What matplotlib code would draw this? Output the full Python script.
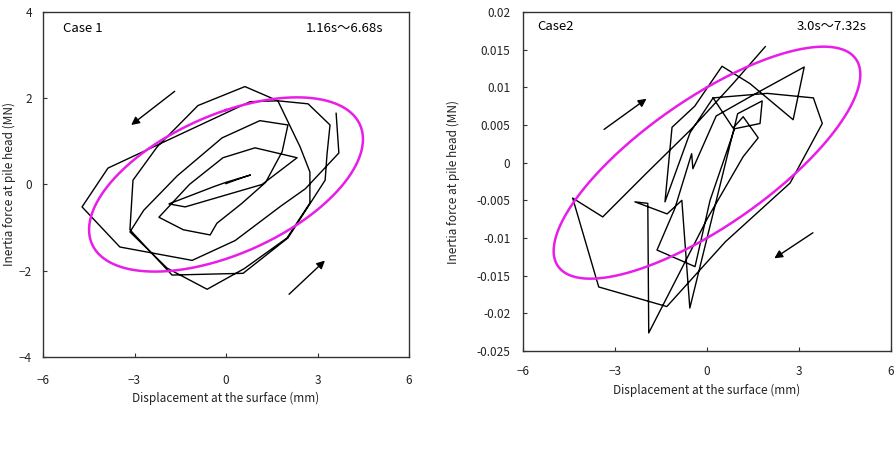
import numpy as np
import matplotlib
matplotlib.use("Agg")
import matplotlib.pyplot as plt

plt.rcParams['font.family'] = ['Noto Sans CJK JP', 'DejaVu Sans']

# ---------------- data ----------------
# Case 1 hysteresis path (displacement mm, force MN)
case1_x = [0.0, 0.3, 0.8, 0.0, -0.4,
           -1.87, -1.34, 1.18, 2.33, 0.95, -0.1, -1.2,
           -2.2, -1.4, -0.52, -0.3, 0.5, 1.3, 1.84, 2.03, 1.11, -0.13, -1.6, -2.7,
           -3.15, -1.93, -0.62, 0.6, 2.0, 2.75, 2.75, 2.43, 1.7, 0.62, -0.92, -2.26, -3.05,
           -3.15, -1.77, 0.56, 2.03, 3.25, 3.31, 3.41, 2.69, 1.7, 0.79, -3.87, -4.72,
           -3.48, -1.11, 0.3, 1.8, 2.6, 3.7, 3.61]
case1_y = [0.02, 0.1, 0.22, 0.05, -0.05,
           -0.45, -0.52, 0.0, 0.62, 0.85, 0.62, 0.0,
           -0.76, -1.05, -1.17, -0.9, -0.45, 0.05, 0.76, 1.38, 1.48, 1.08, 0.2, -0.6,
           -1.1, -1.94, -2.43, -1.95, -1.24, -0.43, 0.29, 0.87, 1.94, 2.27, 1.83, 0.87, 0.1,
           -1.05, -2.1, -2.06, -1.24, 0.1, 0.69, 1.38, 1.87, 1.94, 1.92, 0.38, -0.52,
           -1.45, -1.76, -1.3, -0.5, -0.1, 0.73, 1.65]

# Case 2 hysteresis path (displacement mm, force MN)
case2_x = [1.9, 0.85, -0.5, -2.0, -3.4, -4.38, -3.53, -1.31, 0.6, 2.71, 3.76, 3.47, 1.96,
           0.2, -0.55, -1.37, -1.14, -0.4, 0.49, 1.4, 2.81, 3.17, 1.6, 0.3, -0.46, -0.5,
           -1.05, -1.63, -0.39, 0.1, 0.9, 1.73, 1.8, 1.0, -0.56, -0.82, -1.3, -2.35,
           -1.93, -1.9, 0.0, 1.18, 1.67, 1.18, 0.85, 0.2]
case2_y = [0.0154, 0.0105, 0.0045, -0.0015, -0.0072, -0.0047, -0.0165, -0.0191, -0.0105,
           -0.0027, 0.0052, 0.0086, 0.0092, 0.0086, 0.0040, -0.0052, 0.0047, 0.0075, 0.0128,
           0.0105, 0.0057, 0.0127, 0.0092, 0.0062, -0.0008, 0.0012, -0.0061, -0.0116,
           -0.0138, -0.0050, 0.0045, 0.0052, 0.0082, 0.0065, -0.0193, -0.0050, -0.0068,
           -0.0052, -0.0054, -0.0226, -0.0075, 0.0008, 0.0033, 0.0061, 0.0046, 0.0086]

# ellipse parameters: x amplitude, y amplitude, phase (deg)
ell1 = (4.49, 2.02, 58.7)
ell2 = (5.0, 0.0154, 40.5)

# arrows: (tail_x, tail_y, tip_x, tip_y)
arrows1 = [(-1.61, 2.2, -3.18, 1.34), (2.0, -2.59, 3.31, -1.72)]
arrows2 = [(-3.43, 0.0042, -1.90, 0.0087), (3.53, -0.0091, 2.12, -0.0129)]

xticks = [-6, -3, 0, 3, 6]
yticks1 = [-4, -2, 0, 2, 4]
yticks2 = [-0.025, -0.02, -0.015, -0.01, -0.005, 0, 0.005, 0.01, 0.015, 0.02]
yticklabels2 = ['-0.025', '-0.02', '-0.015', '-0.01', '-0.005', '0', '0.005', '0.01', '0.015', '0.02']

xlabel = 'Displacement at the surface (mm)'
ylabel = 'Inertia force at pile head (MN)'

# ---------------- figure ----------------
fig = plt.figure(figsize=(8.96, 4.5), dpi=100)
ax1 = fig.add_axes([0.048, 0.2067, 0.4085, 0.7667])
ax2 = fig.add_axes([0.5837, 0.22, 0.4107, 0.7533])

MAG = '#e81ee8'
t = np.linspace(0, 2 * np.pi, 400)


def style(ax):
    for s in ax.spines.values():
        s.set_color('#333333')
        s.set_linewidth(1.0)
    ax.tick_params(direction='in', length=3, width=0.8, colors='#333333',
                   labelsize=8.5, labelcolor='#222222')


# left
ax1.plot(case1_x, case1_y, color='black', lw=1.0)
X, Y, ph = ell1
ax1.plot(X * np.sin(t), Y * np.sin(t + np.radians(ph)), color=MAG, lw=1.8)
for a in arrows1:
    ax1.annotate('', xy=(a[2], a[3]), xytext=(a[0], a[1]),
                 arrowprops=dict(arrowstyle='-|>', color='black', lw=1.0, mutation_scale=12))
ax1.set_xlim(-6, 6)
ax1.set_ylim(-4, 4)
ax1.set_xticks(xticks)
ax1.set_yticks(yticks1)
style(ax1)
ax1.tick_params(axis='x', pad=12)
ax1.tick_params(axis='y', pad=8)
ax1.set_xlabel(xlabel, fontsize=8.5, labelpad=4, color='#222222')
ax1.set_ylabel(ylabel, fontsize=8.5, labelpad=2, color='#222222')
ax1.text(0.055, 0.953, 'Case 1', transform=ax1.transAxes, fontsize=9.5, va='center', ha='left')
ax1.text(0.93, 0.953, '1.16s～6.68s', transform=ax1.transAxes, fontsize=9.5, va='center', ha='right')

# right
ax2.plot(case2_x, case2_y, color='black', lw=1.0)
X, Y, ph = ell2
ax2.plot(X * np.sin(t), Y * np.sin(t + np.radians(ph)), color=MAG, lw=1.8)
for a in arrows2:
    ax2.annotate('', xy=(a[2], a[3]), xytext=(a[0], a[1]),
                 arrowprops=dict(arrowstyle='-|>', color='black', lw=1.0, mutation_scale=12))
ax2.set_xlim(-6, 6)
ax2.set_ylim(-0.025, 0.02)
ax2.set_xticks(xticks)
ax2.set_yticks(yticks2)
ax2.set_yticklabels(yticklabels2)
style(ax2)
ax2.tick_params(axis='x', pad=10)
ax2.tick_params(axis='y', pad=9)
ax2.set_xlabel(xlabel, fontsize=8.5, labelpad=4, color='#222222')
ax2.set_ylabel(ylabel, fontsize=8.5, labelpad=12, color='#222222')
ax2.text(0.038, 0.956, 'Case2', transform=ax2.transAxes, fontsize=9.5, va='center', ha='left')
ax2.text(0.935, 0.956, '3.0s～7.32s', transform=ax2.transAxes, fontsize=9.5, va='center', ha='right')

fig.savefig('out.png', dpi=100)
